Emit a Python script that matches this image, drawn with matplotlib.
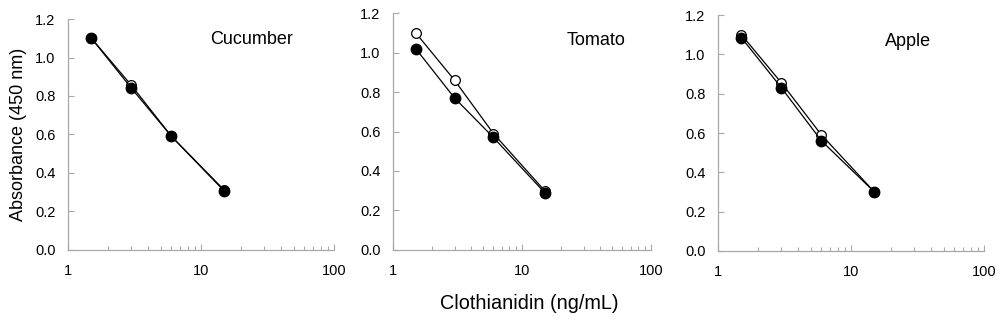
import matplotlib
matplotlib.use("Agg")
import matplotlib.pyplot as plt
from matplotlib.ticker import FixedLocator, LogLocator, NullFormatter

plt.rcParams['font.family'] = ['Liberation Sans', 'DejaVu Sans']

# concentrations (ng/mL)
conc = [1.5, 3, 6, 15]

# absorbance at 450 nm: open = buffer standard, filled = matrix extract
cucumber_open = [1.10, 0.855, 0.59, 0.31]
cucumber_filled = [1.10, 0.84, 0.59, 0.305]
tomato_open = [1.10, 0.86, 0.59, 0.30]
tomato_filled = [1.02, 0.77, 0.57, 0.29]
apple_open = [1.10, 0.855, 0.59, 0.30]
apple_filled = [1.085, 0.83, 0.56, 0.30]

names = ["Cucumber", "Tomato", "Apple"]
open_sets = [cucumber_open, tomato_open, apple_open]
filled_sets = [cucumber_filled, tomato_filled, apple_filled]

y_ticks = [0.0, 0.2, 0.4, 0.6, 0.8, 1.0, 1.2]
x_ticks = [1, 10, 100]

fig = plt.figure(figsize=(10, 3.28), dpi=100)

boxes = [
    [0.068, 0.238, 0.266, 0.704],
    [0.393, 0.238, 0.258, 0.722],
    [0.718, 0.235, 0.266, 0.719],
]
title_pos = [(0.69, 0.91), (0.787, 0.886), (0.714, 0.886)]

spine_col = '#a8a8a8'

for i, name in enumerate(names):
    ax = fig.add_axes(boxes[i])
    ax.plot(conc, open_sets[i], color='black', lw=0.9, marker='o', ms=7,
            mfc='white', mec='black', mew=0.9, zorder=3)
    ax.plot(conc, filled_sets[i], color='black', lw=0.9, marker='o', ms=7.5,
            mfc='black', mec='black', zorder=4)

    ax.set_xscale('log')
    ax.set_xlim(1, 100)
    ax.set_ylim(0, 1.2)
    ax.xaxis.set_major_locator(FixedLocator(x_ticks))
    ax.set_xticklabels([str(v) for v in x_ticks])
    ax.xaxis.set_minor_locator(LogLocator(base=10, subs=range(2, 10)))
    ax.xaxis.set_minor_formatter(NullFormatter())
    ax.set_yticks(y_ticks)
    ax.set_yticklabels([f"{v:.1f}" for v in y_ticks])

    for side in ['top', 'right']:
        ax.spines[side].set_visible(False)
    for side in ['left', 'bottom']:
        ax.spines[side].set_color(spine_col)
        ax.spines[side].set_linewidth(0.9)

    ax.tick_params(axis='both', which='both', direction='in', color=spine_col,
                   labelsize=10.5, width=0.8)
    ax.tick_params(axis='x', which='major', length=4, pad=10)
    ax.tick_params(axis='x', which='minor', length=3)
    ax.tick_params(axis='y', which='major', length=4, pad=9)

    ax.text(title_pos[i][0], title_pos[i][1], name, transform=ax.transAxes,
            ha='center', va='center', fontsize=13)

    if i == 0:
        ax.set_ylabel('Absorbance (450 nm)', fontsize=13, labelpad=6)

fig.text(0.529, 0.075, 'Clothianidin (ng/mL)', ha='center', va='center',
         fontsize=14.3)

fig.savefig('out.png', dpi=100)
